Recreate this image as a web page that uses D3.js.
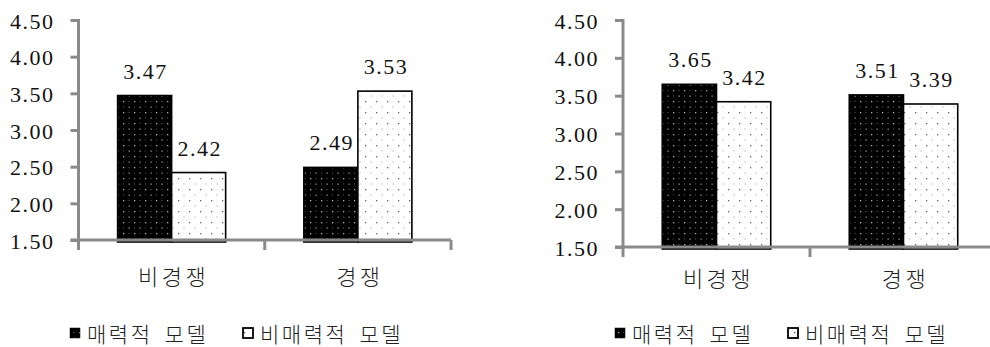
<!DOCTYPE html>
<html>
<head>
<meta charset="utf-8">
<script src="https://cdn.jsdelivr.net/npm/d3@7"></script>
<style>
  html, body { margin: 0; padding: 0; background: #fff; }
  svg { display: block; }
</style>
</head>
<body>
<svg id="chart" width="990" height="347"></svg>
<script>
// ---------- data ----------
const categories = ["비경쟁", "경쟁"];
const seriesNames = ["매력적 모델", "비매력적 모델"];
const leftAttractive = [3.47, 2.49];
const leftUnattractive = [2.42, 3.53];
const rightAttractive = [3.65, 3.51];
const rightUnattractive = [3.42, 3.39];
const yTickValues = [1.50, 2.00, 2.50, 3.00, 3.50, 4.00, 4.50];

// ---------- drawing ----------
const NUM_FONT = "'Liberation Serif', 'Times New Roman', 'DejaVu Serif', serif";
const KR_FONT = "'Noto Sans CJK KR', 'Noto Sans', sans-serif";
function numStyle(sel) {
  sel.style("font-family", NUM_FONT).style("font-size", "22px")
    .style("letter-spacing", "1.5px").style("fill", "#111");
}

const svg = d3.select("#chart");
const defs = svg.append("defs");

// black bar pattern: black with light dots
const pb = defs.append("pattern").attr("id", "patBlack")
  .attr("patternUnits", "userSpaceOnUse").attr("width", 11).attr("height", 11);
pb.append("rect").attr("width", 11).attr("height", 11).attr("fill", "#000");
pb.append("rect").attr("x", 2).attr("y", 2).attr("width", 1.3).attr("height", 1.3).attr("fill", "#b0b0b0");
pb.append("rect").attr("x", 7.5).attr("y", 7.5).attr("width", 1.3).attr("height", 1.3).attr("fill", "#909090");
pb.append("rect").attr("x", 7.5).attr("y", 2).attr("width", 1).attr("height", 1).attr("fill", "#5a5a5a");
pb.append("rect").attr("x", 2).attr("y", 7.5).attr("width", 1).attr("height", 1).attr("fill", "#5a5a5a");

// white bar pattern: white with dark dots
const pw = defs.append("pattern").attr("id", "patWhite")
  .attr("patternUnits", "userSpaceOnUse").attr("width", 11).attr("height", 11);
pw.append("rect").attr("width", 11).attr("height", 11).attr("fill", "#fff");
pw.append("rect").attr("x", 2).attr("y", 2).attr("width", 1.3).attr("height", 1.3).attr("fill", "#666");
pw.append("rect").attr("x", 7.5).attr("y", 7.5).attr("width", 1).attr("height", 1).attr("fill", "#999");

const fills = ["url(#patBlack)", "url(#patWhite)"];
const axisColor = "#8a8a8a";

function drawChart(cfg, seriesA, seriesB) {
  const g = svg.append("g");
  const y = d3.scaleLinear().domain([1.5, 4.5]).range([cfg.bottom, cfg.top]);
  const x = d3.scaleBand().domain(categories).range([cfg.left, cfg.right])
    .paddingInner(0.42).paddingOuter(0.21);
  const xs = d3.scaleBand().domain([0, 1]).range([0, x.bandwidth()]);

  // y axis
  const yAxis = d3.axisLeft(y).tickValues(yTickValues).tickSize(8).tickSizeOuter(0)
    .tickFormat(d3.format(".2f"));
  const ya = g.append("g").attr("transform", `translate(${cfg.left},0)`).call(yAxis);
  ya.attr("font-size", null).attr("font-family", null);
  ya.select(".domain").remove();
  ya.selectAll(".tick line").attr("stroke", axisColor).attr("stroke-width", 3);
  ya.selectAll(".tick text").attr("x", -24).attr("dy", null).attr("y", 8)
    .attr("fill", null).call(numStyle);

  // bars
  const data = [];
  categories.forEach((c, i) => {
    data.push({ c, s: 0, v: seriesA[i] });
    data.push({ c, s: 1, v: seriesB[i] });
  });
  g.selectAll("rect.bar").data(data).join("rect").attr("class", "bar")
    .attr("x", d => x(d.c) + xs(d.s))
    .attr("width", xs.bandwidth())
    .attr("y", d => y(d.v))
    .attr("height", d => y(1.5) - y(d.v) + 2)
    .attr("fill", d => fills[d.s])
    .attr("stroke", "#000").attr("stroke-width", 1.6);

  // axis lines (drawn over bar bottoms)
  g.append("line").attr("x1", cfg.left).attr("x2", cfg.left)
    .attr("y1", cfg.top - 1).attr("y2", cfg.bottom + 10)
    .attr("stroke", axisColor).attr("stroke-width", 3);
  g.append("line").attr("x1", cfg.left - 8).attr("x2", cfg.right)
    .attr("y1", cfg.bottom).attr("y2", cfg.bottom)
    .attr("stroke", axisColor).attr("stroke-width", 3);
  // category boundary ticks
  const bounds = d3.range(1, categories.length + 1).map(i => cfg.left + x.step() * i);
  g.selectAll("line.btick").data(bounds).join("line").attr("class", "btick")
    .attr("x1", d => d).attr("x2", d => d)
    .attr("y1", cfg.bottom).attr("y2", cfg.bottom + 10)
    .attr("stroke", axisColor).attr("stroke-width", 3);

  // value labels
  g.selectAll("text.val").data(data).join("text").attr("class", "val")
    .attr("x", d => x(d.c) + xs(d.s) + xs.bandwidth() / 2 + 1)
    .attr("y", d => y(d.v) - 17)
    .attr("text-anchor", "middle")
    .call(numStyle)
    .text(d => d3.format(".2f")(d.v));

  // category labels
  g.selectAll("text.cat").data(categories).join("text").attr("class", "cat")
    .attr("x", d => x(d) + x.bandwidth() / 2 + 2)
    .attr("y", cfg.catY)
    .attr("text-anchor", "middle")
    .style("font-family", KR_FONT).style("font-weight", 300).style("fill", "#222")
    .style("font-size", "22px").style("letter-spacing", "3.5px")
    .text(d => d);

  // legend
  cfg.legend.forEach((lx, i) => {
    g.append("rect").attr("x", lx).attr("y", 328).attr("width", 10).attr("height", 10)
      .attr("fill", fills[i]).attr("stroke", "#000").attr("stroke-width", i === 0 ? 0.5 : 1.8);
    g.append("text").attr("x", lx + 17).attr("y", 342)
      .style("font-family", KR_FONT).style("font-weight", 300).style("fill", "#222")
      .style("font-size", "21px").style("letter-spacing", "2.5px").style("word-spacing", "5px")
      .text(seriesNames[i]);
  });
}

drawChart({ left: 78.5, right: 451, top: 20, bottom: 240, catY: 285, legend: [70, 243] },
  leftAttractive, leftUnattractive);
drawChart({ left: 623, right: 997, top: 20, bottom: 247, catY: 287, legend: [615, 788] },
  rightAttractive, rightUnattractive);
</script>
</body>
</html>
